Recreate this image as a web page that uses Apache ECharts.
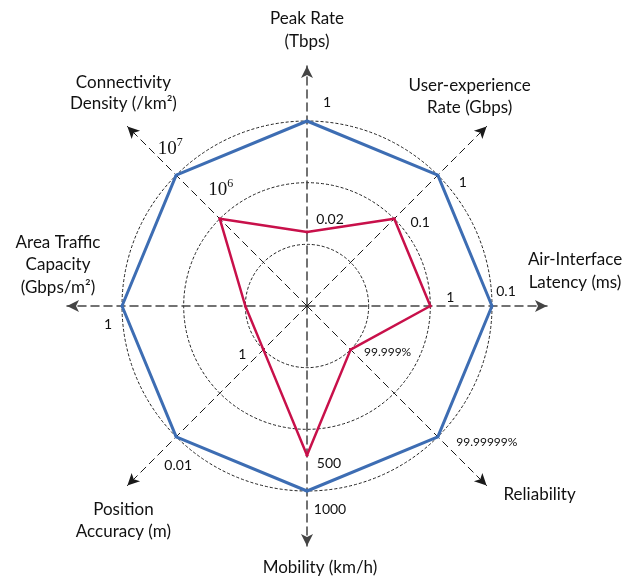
<!DOCTYPE html>
<html><head><meta charset="utf-8">
<script src="https://cdn.jsdelivr.net/npm/echarts@6/dist/echarts.min.js"></script>
<style>html,body{margin:0;padding:0;background:#fff}#c{width:634px;height:578px}</style>
</head><body><div id="c"></div>
<script>
// ---- DATA (indicator order = ECharts radar order, counter-clockwise from top) ----
const indicatorNames = ['Peak Rate (Tbps)', 'Connectivity Density (/km²)', 'Area Traffic Capacity (Gbps/m²)',
  'Position Accuracy (m)', 'Mobility (km/h)', 'Reliability', 'Air-Interface Latency (ms)', 'User-experience Rate (Gbps)'];
const scaleMax = 3;
const outerValues = [3, 3, 3, 3, 3, 3, 3, 3];           // blue polygon
const innerValues = [1.2, 2, 1, 1, 2.42, 1, 2, 2];      // red polygon
const outerTickLabels = ['1', '10^7', '1', '0.01', '1000', '99.99999%', '0.1', '1'];
const innerTickLabels = ['0.02', '10^6', '', '1', '500', '99.999%', '1', '0.1'];
const cardinalNames = [['Peak Rate', '(Tbps)'], ['Area Traffic', 'Capacity', '(Gbps/m²)'], ['Mobility (km/h)'], ['Air-Interface', 'Latency (ms)']];
const diagonalNames = [['User-experience', 'Rate (Gbps)'], ['Connectivity', 'Density (/km²)'], ['Position', 'Accuracy (m)'], ['Reliability']];

// ---- LAYOUT / STYLE ----
const CX = 307, CY = 306;
const FONT = 'Lato, "Open Sans", sans-serif';
const SERIF = '"Liberation Serif", "DejaVu Serif", serif';
const BLUE = '#3d6db3', RED = '#c8104a';
const cardinalShift = [[0, -36], [-9, -41], [13, 22], [28, -34.5]];
const diagonalShift = [[-17, -30], [-4, -33], [-4, 35], [53, 9]];
const outerLabelShift = [[20, -19], [-6, -26.5], [-14, 18], [2, 29], [23, 18], [49, 5], [14, -15], [25, 7]];
const innerLabelShift = [[23, -13], [1, -29], [0, 0], [-21, 5], [22, 8], [37, 3], [20, -9], [26, 4]];
const labelSizes = [14, 19, 14, 14, 14, 12, 14, 14];

function pads(dx, dy) {
  return { t: Math.max(0, 2 * dy), b: Math.max(0, -2 * dy), l: Math.max(0, 2 * dx), r: Math.max(0, -2 * dx) };
}
function buildLabelRich(prefix, labels, shifts) {
  const rich = {};
  labels.forEach((txt, i) => {
    const p = pads(shifts[i][0], shifts[i][1]);
    if (txt.indexOf('^') >= 0) {
      rich[prefix + i + 'b'] = { fontFamily: SERIF, fontSize: labelSizes[i], color: '#111', padding: [p.t, 0, p.b, p.l], verticalAlign: 'middle', align: 'center' };
      rich[prefix + i + 's'] = { fontFamily: SERIF, fontSize: 12, color: '#111', padding: [p.t, p.r, p.b + 12, 0], verticalAlign: 'middle', align: 'center' };
    } else {
      rich[prefix + i] = { fontFamily: FONT, fontSize: labelSizes[i], color: '#111', padding: [p.t, p.r, p.b, p.l], verticalAlign: 'middle', align: 'center' };
    }
  });
  return rich;
}
function labelText(prefix, labels, i) {
  const t = labels[i];
  if (!t) return '';
  if (t.indexOf('^') >= 0) {
    const parts = t.split('^');
    return '{' + prefix + i + 'b|' + parts[0] + '}{' + prefix + i + 's|' + parts[1] + '}';
  }
  return '{' + prefix + i + '|' + t + '}';
}
function buildNameRich(prefix, names, shifts, lh) {
  const rich = {};
  names.forEach((lines, i) => {
    const p = pads(shifts[i][0], shifts[i][1]);
    rich[prefix + i + 't'] = {
      fontFamily: FONT, fontSize: 17, color: '#111', lineHeight: lh[i], align: 'center', verticalAlign: 'middle',
      padding: [0, p.r, 0, p.l]
    };
    rich[prefix + i + 'sp'] = { fontSize: 2, lineHeight: Math.max(1, Math.abs(2 * shifts[i][1])), align: 'center' };
  });
  return rich;
}
function nameText(prefix, names, shifts, name) {
  const i = names.findIndex(l => l.join(' ') === name);
  if (i < 0) return name;
  const body = names[i].map(ln => '{' + prefix + i + 't|' + ln + '}');
  const spacer = '{' + prefix + i + 'sp| }';
  if (shifts[i][1] > 0) body.unshift(spacer); else body.push(spacer);
  return body.join('\n');
}

function guideRadar(names, prefix, shifts, startAngle, radius, lineColor, lineWidth, dash, lh) {
  return {
    center: [CX, CY], radius: radius, startAngle: startAngle, shape: 'circle', splitNumber: 1,
    indicator: names.map(l => ({ name: l.join(' '), min: 0, max: 1 })),
    nameGap: 0,
    axisName: {
      show: true, align: 'center', verticalAlign: 'middle', color: '#111',
      formatter: (n) => nameText(prefix, names, shifts, n),
      rich: buildNameRich(prefix, names, shifts, lh)
    },
    axisLine: { show: true, symbol: ['none', 'arrow'], symbolSize: [9, 12], lineStyle: { color: lineColor, width: lineWidth, type: dash } },
    axisTick: { show: false }, axisLabel: { show: false },
    splitLine: { show: false }, splitArea: { show: false }
  };
}

const chart = echarts.init(document.getElementById('c'), null, { renderer: 'canvas' });
chart.setOption({
  animation: false,
  backgroundColor: '#fff',
  radar: [
    {
      center: [CX, CY], radius: 185, startAngle: 90, shape: 'circle', splitNumber: 3,
      indicator: indicatorNames.map(n => ({ name: n, min: 0, max: scaleMax })),
      axisName: { show: false }, axisLine: { show: false }, axisTick: { show: false }, axisLabel: { show: false },
      splitArea: { show: false },
      splitLine: { show: true, lineStyle: { color: '#222', width: 1, type: [3, 2] } }
    },
    guideRadar(cardinalNames, 'c', cardinalShift, 90, 240, '#444', 1.5, [8, 5], [23, 22.5, 23, 23]),
    guideRadar(diagonalNames, 'd', diagonalShift, 45, 254, '#1a1a1a', 1, [7, 5], [22, 21, 22, 22])
  ],
  series: [
    {
      type: 'radar', radarIndex: 0, symbol: 'circle', symbolSize: 3, silent: true, z: 3,
      lineStyle: { color: BLUE, width: 3 }, itemStyle: { color: BLUE },
      label: {
        show: true, position: ['50%', '50%'], align: 'center', verticalAlign: 'middle',
        formatter: p => labelText('o', outerTickLabels, p.dimensionIndex),
        rich: buildLabelRich('o', outerTickLabels, outerLabelShift)
      },
      data: [{ value: outerValues, name: 'outer' }]
    },
    {
      type: 'radar', radarIndex: 0, symbol: 'circle', symbolSize: 3, silent: true, z: 4,
      lineStyle: { color: RED, width: 2.5 }, itemStyle: { color: RED },
      label: {
        show: true, position: ['50%', '50%'], align: 'center', verticalAlign: 'middle',
        formatter: p => labelText('i', innerTickLabels, p.dimensionIndex),
        rich: buildLabelRich('i', innerTickLabels, innerLabelShift)
      },
      data: [{ value: innerValues, name: 'inner' }]
    }
  ]
});
</script>
</body></html>
